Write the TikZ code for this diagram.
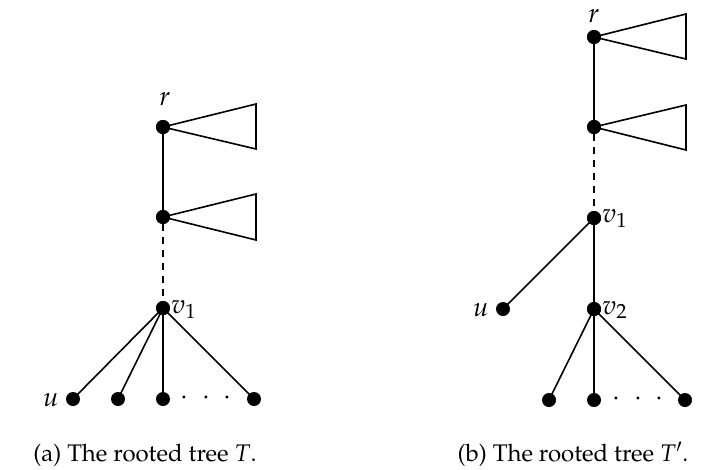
\documentclass[tikz,border=0pt]{standalone}
\usepackage[T1]{fontenc}
\usepackage{mathpazo}
\begin{document}
\begin{tikzpicture}[x=1pt,y=-1pt,
  vert/.style={circle,fill=black,inner sep=0pt,minimum size=14pt},
  edge/.style={line width=1.6pt},
  dedge/.style={line width=1.6pt,dash pattern=on 6.5pt off 6.5pt},
  tri/.style={line width=1.6pt,line join=miter},
  lab/.style={inner sep=0pt,font=\fontsize{27}{30}\selectfont},
  captxt/.style={inner sep=0pt,font=\fontsize{24}{28}\selectfont}]
\useasboundingbox (0,0) rectangle (715,469);
% ---- left tree
\node[vert] (ar) at (163,127) {};
\node[vert] (am) at (163,217) {};
\node[vert] (av) at (163,308) {};
\node[vert] (au) at (73,399) {};
\node[vert] (al2) at (118,399) {};
\node[vert] (al3) at (163,399) {};
\node[vert] (al4) at (254,399) {};
\draw[tri] (ar.center) -- (256,104) -- (256,149) -- cycle;
\draw[tri] (am.center) -- (256,194) -- (256,240) -- cycle;
\draw[edge] (ar) -- (am);
\draw[dedge] (am) -- (av);
\draw[edge] (av.center) -- (au.center);
\draw[edge] (av.center) -- (al2.center);
\draw[edge] (av.center) -- (al3.center);
\draw[edge] (av.center) -- (al4.center);
\node[vert] at (ar) {};
\node[vert] at (am) {};
\node[vert] at (av) {};
\node[lab,anchor=base] (arl) at (165,105) {$r$};
\node[lab,anchor=base west] (avl) at (171,313) {$v_1$};
\node[lab,anchor=base east] (aul) at (59,406) {$u$};
\node[lab,anchor=center] (adots) at (206,398) {$\cdotp\hspace{8.6pt}\cdotp\hspace{8.6pt}\cdotp$};
% ---- right tree
\node[vert] (br) at (594,37) {};
\node[vert] (bm) at (594,127) {};
\node[vert] (bv) at (594,218) {};
\node[vert] (bu) at (503,309) {};
\node[vert] (bw) at (594,309) {};
\node[vert] (bl1) at (549,400) {};
\node[vert] (bl2) at (594,400) {};
\node[vert] (bl3) at (685,400) {};
\draw[tri] (br.center) -- (686,14) -- (686,59) -- cycle;
\draw[tri] (bm.center) -- (686,105) -- (686,150) -- cycle;
\draw[edge] (br) -- (bm);
\draw[dedge] (bm) -- (bv);
\draw[edge] (bv.center) -- (bu.center);
\draw[edge] (bv.center) -- (bw.center);
\draw[edge] (bw.center) -- (bl1.center);
\draw[edge] (bw.center) -- (bl2.center);
\draw[edge] (bw.center) -- (bl3.center);
\node[vert] at (br) {};
\node[vert] at (bm) {};
\node[vert] at (bv) {};
\node[vert] at (bw) {};
\node[lab,anchor=base] (brl) at (594,22) {$r$};
\node[lab,anchor=base west] (bvl) at (602,222) {$v_1$};
\node[lab,anchor=base west] (bwl) at (602,314) {$v_2$};
\node[lab,anchor=base east] (bul) at (489,316) {$u$};
\node[lab,anchor=center] (bdots) at (638,399) {$\cdotp\hspace{8.6pt}\cdotp\hspace{8.6pt}\cdotp$};
% ---- captions
\node[captxt,anchor=base] (capa) at (145,461) {(a) The rooted tree $T$.};
\node[captxt,anchor=base] (capb) at (573,461) {(b) The rooted tree $T'$.};
\end{tikzpicture}
\end{document}
